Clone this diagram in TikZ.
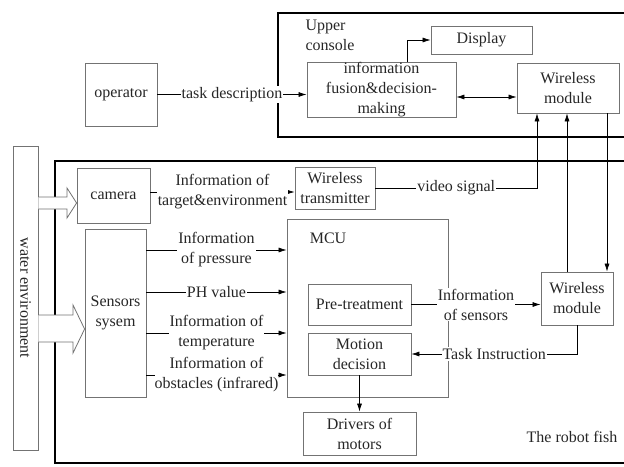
\documentclass[tikz,border=0pt]{standalone}
\usepackage{fontspec}
\setmainfont{Liberation Serif}
\usetikzlibrary{arrows.meta}
\definecolor{boxgray}{rgb}{0.45,0.45,0.45}
\definecolor{textgray}{rgb}{0.15,0.15,0.15}

\begin{document}
\begin{tikzpicture}[x=1pt, y=-1pt, font=\rmfamily\fontsize{16}{20}\selectfont, text=textgray,
  box/.style={draw=boxgray, line width=0.8pt, align=center, inner sep=0pt},
  frame/.style={draw=black, line width=2.5pt},
  fat/.style={draw=boxgray, line width=0.8pt, fill=white},
  arr/.style={draw=black, line width=0.7pt, -{Latex[length=8pt,width=5pt]}},
  arrboth/.style={draw=black, line width=0.7pt, {Latex[length=8pt,width=5pt]}-{Latex[length=8pt,width=5pt]}},
  lbl/.style={fill=white, inner sep=1pt, align=center}]

\clip (0,0) rectangle (624,466);

% frames
\draw[frame] (278,13) rectangle (640,137);
\draw[frame] (55,161) rectangle (640,463);
\node (upper) at (302,35) [anchor=west, align=left]{Upper\\console};
\node (fish) at (572,437) {The robot fish};

% upper console
\node (op) at (121,94.5) [box, minimum width=72, minimum height=63]{operator};
\node (disp) at (481.5,40) [box, minimum width=101, minimum height=28]{Display};
\node (fus) at (381.5,90) [box, minimum width=149, minimum height=54]{information\\fusion\&decision-\\making};
\node (wlu) at (568,88) [box, minimum width=102, minimum height=50]{Wireless\\module};

% robot fish
\node (water) at (25.5,298) [box, minimum width=25, minimum height=304]{};
\node (watertxt) at (water.center) [rotate=-90]{water environment};
\node (cam) at (113.5,195.5) [box, minimum width=73, minimum height=55]{camera};
\node (sens) at (115.5,313) [box, minimum width=61, minimum height=168]{Sensors\\sysem};
\node (trans) at (335,188) [box, minimum width=80, minimum height=42]{Wireless\\transmitter};
\node (mcu) at (367.5,308) [box, minimum width=161, minimum height=178]{};
\node (mcutxt) at (328,238) {MCU};
\node (pre) at (359.5,304.5) [box, minimum width=103, minimum height=41]{Pre-treatment};
\node (mot) at (359.5,354) [box, minimum width=103, minimum height=42]{Motion\\decision};
\node (wll) at (577,298.5) [box, minimum width=72, minimum height=53]{Wireless\\module};
\node (drv) at (359.5,433.5) [box, minimum width=113, minimum height=43]{Drivers of\\motors};

% water environment arrows
\draw[fat] (water.east |- 0,197) -- (67,197) -- (67,188) -- (cam.west |- 0,203)
  -- (67,218) -- (67,209) -- (water.east |- 0,209);
\draw[fat] (water.east |- 0,315) -- (73,315) -- (73,305) -- (sens.west |- 0,329)
  -- (73,353) -- (73,342) -- (water.east |- 0,342);

% connectors, upper console
\draw[arr] (op.east) -- node[lbl]{task description} (op.east -| fus.west);
\draw[arr] ([xshift=25.5pt]fus.north) |- (disp.west);
\draw[arrboth] ([yshift=-7pt]fus.east) -- ([yshift=-7pt]fus.east -| wlu.west);

% connectors, robot fish
\draw[arr] ([yshift=3.5pt]cam.east) -- node[lbl]{Information of\\target\&environment} ([yshift=3.5pt]cam.east -| trans.west);
\draw[arr] (trans.east) -| node[lbl, pos=0.25]{video signal} ([xshift=-31pt]wlu.south);
\draw[arr] ([xshift=-10pt]wll.north) -- ([xshift=-10pt]wll.north |- wlu.south);
\draw[arr] ([xshift=39pt]wlu.south) -- ([xshift=39pt]wlu.south |- wll.north);

\draw[arr] ([yshift=63pt]sens.east) -- node[lbl]{Information\\of pressure} ([yshift=63pt]sens.east -| mcu.west);
\draw[arr] ([yshift=21pt]sens.east) -- node[lbl]{PH value} ([yshift=21pt]sens.east -| mcu.west);
\draw[arr] ([yshift=-20pt]sens.east) -- node[lbl]{Information of\\temperature} ([yshift=-20pt]sens.east -| mcu.west);
\draw[arr] ([yshift=-62pt]sens.east) -- node[lbl, inner sep=0pt]{Information of\\obstacles (infrared)} ([yshift=-62pt]sens.east -| mcu.west);

\draw[arr] (pre.east) -- node[lbl]{Information\\of sensors} (pre.east -| wll.west);
\draw[arr] (wll.south) |- node[lbl, pos=0.75]{Task Instruction} (mot.east);
\draw[arr] (mot.south) -- (drv.north);

\end{tikzpicture}
\end{document}
